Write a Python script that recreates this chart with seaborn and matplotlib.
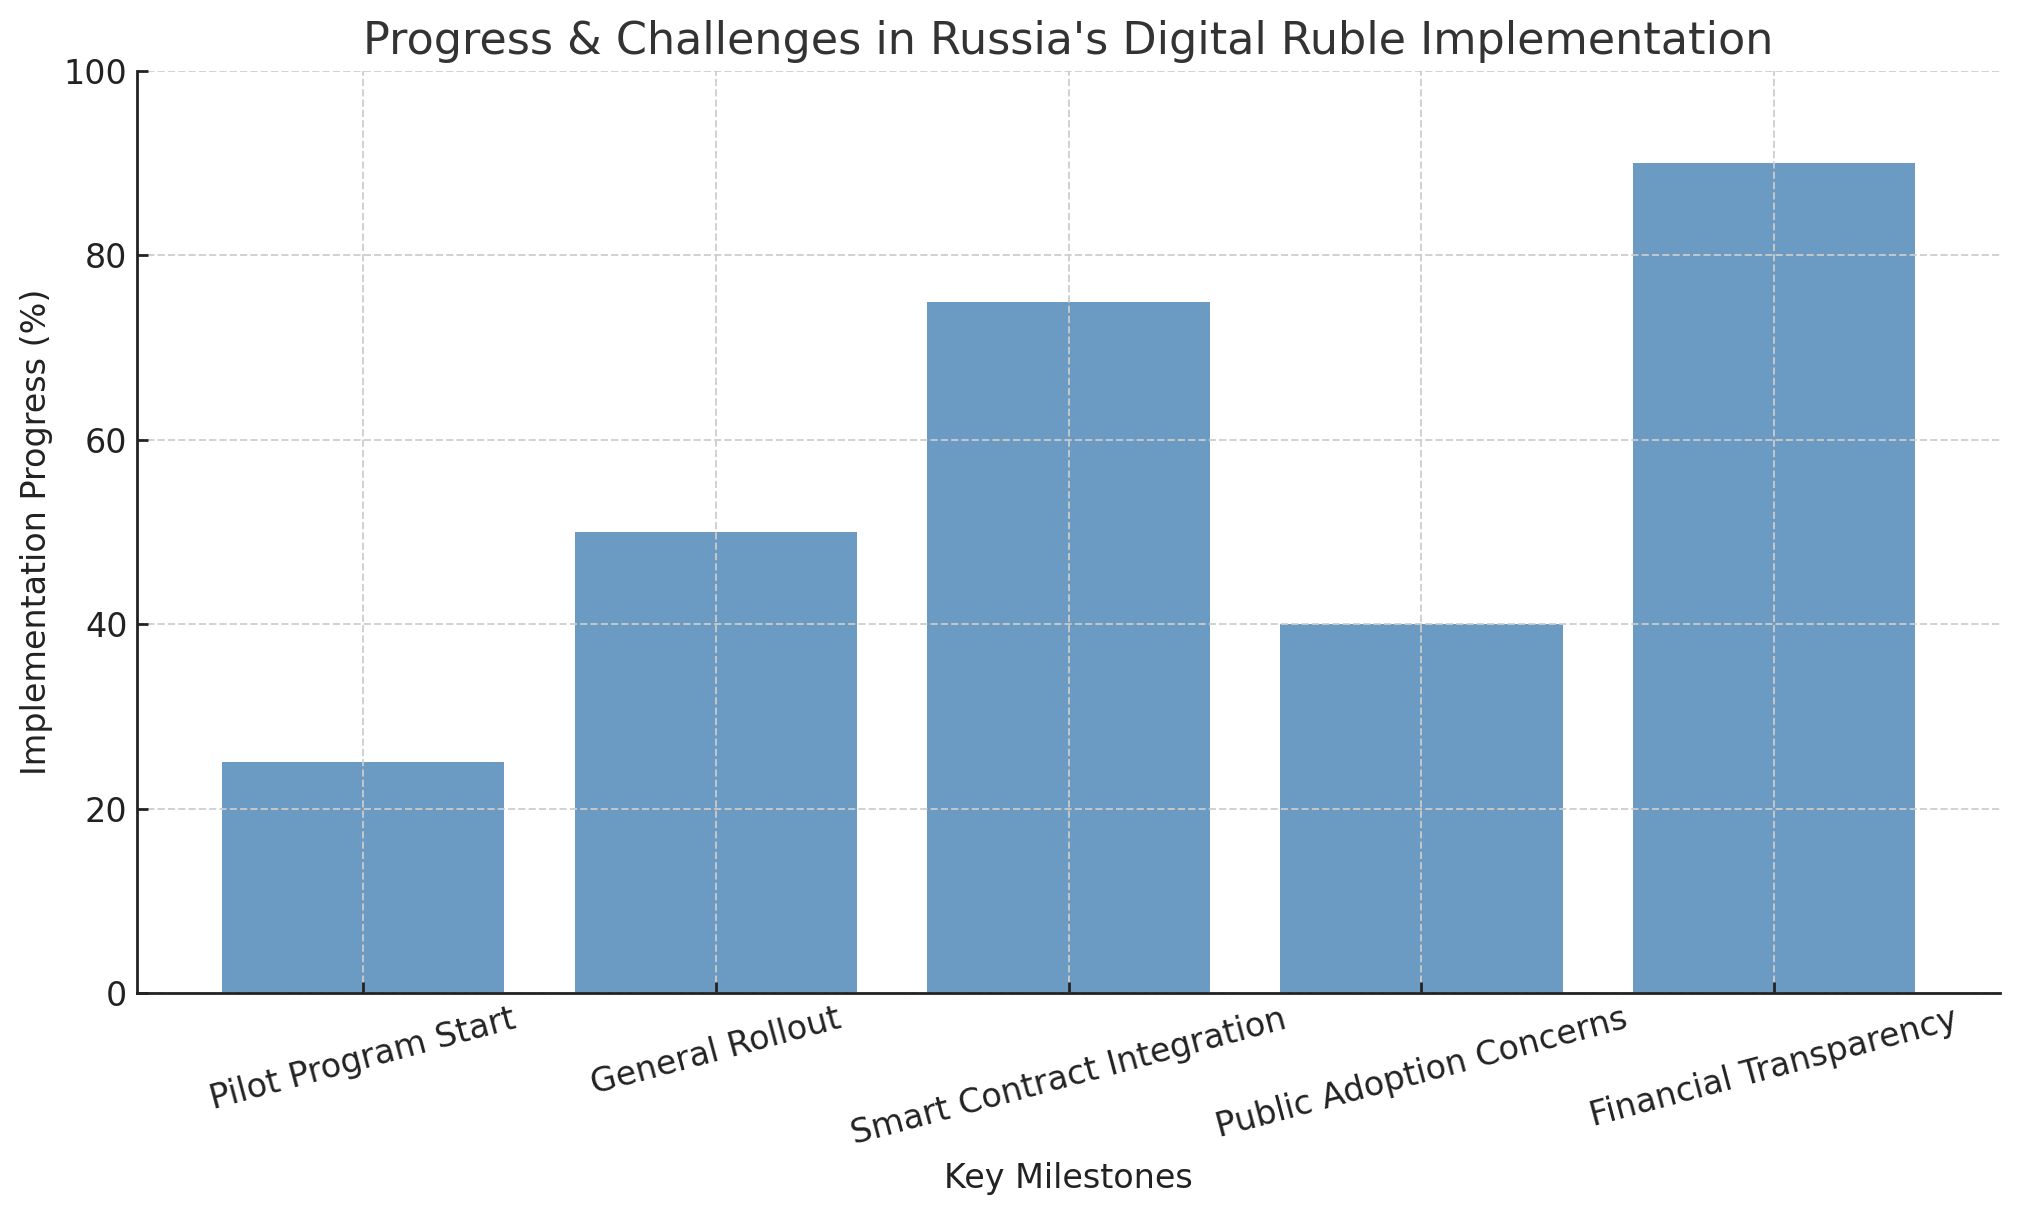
import matplotlib
matplotlib.use("Agg")
import matplotlib.pyplot as plt
import seaborn as sns
import pandas as pd

milestones = ["Pilot Program Start", "General Rollout", "Smart Contract Integration",
              "Public Adoption Concerns", "Financial Transparency"]
progress = [25, 50, 75, 40, 90]

df = pd.DataFrame({"Milestone": milestones, "Progress": progress})

sns.set_theme(style="white")
plt.rcParams["font.family"] = ["DejaVu Sans"]
plt.rcParams["xtick.direction"] = "in"
plt.rcParams["ytick.direction"] = "in"

fig = plt.figure(figsize=(10.085, 6.08), dpi=200)
ax = fig.add_axes([0.068, 0.1834, 0.9236, 0.7582])

sns.barplot(data=df, x="Milestone", y="Progress", color="steelblue", alpha=0.8,
            width=0.8, saturation=1, ax=ax, errorbar=None, linewidth=0)

ax.set_xlim(-0.64, 4.64)
ax.set_ylim(0, 100)
ax.set_yticks([0, 20, 40, 60, 80, 100])
ax.set_axisbelow(False)
ax.grid(True, linestyle="--", color="#cccccc", linewidth=0.7, alpha=0.9)

for s in ["top", "right"]:
    ax.spines[s].set_visible(False)
for s in ["left", "bottom"]:
    ax.spines[s].set_color("#222222")
    ax.spines[s].set_linewidth(1.0)
    ax.spines[s].set_zorder(5)

ax.tick_params(axis="both", labelsize=12, colors="#222222", length=4, width=1,
               direction="in", bottom=True, left=True)
plt.setp(ax.get_xticklabels(), rotation=15, ha="center")

ax.set_title("Progress & Challenges in Russia's Digital Ruble Implementation",
             fontsize=16, color="#333333")
ax.set_xlabel("Key Milestones", fontsize=12, color="#222222")
ax.set_ylabel("Implementation Progress (%)", fontsize=12, color="#222222")

fig.savefig("out.png", dpi=200)
